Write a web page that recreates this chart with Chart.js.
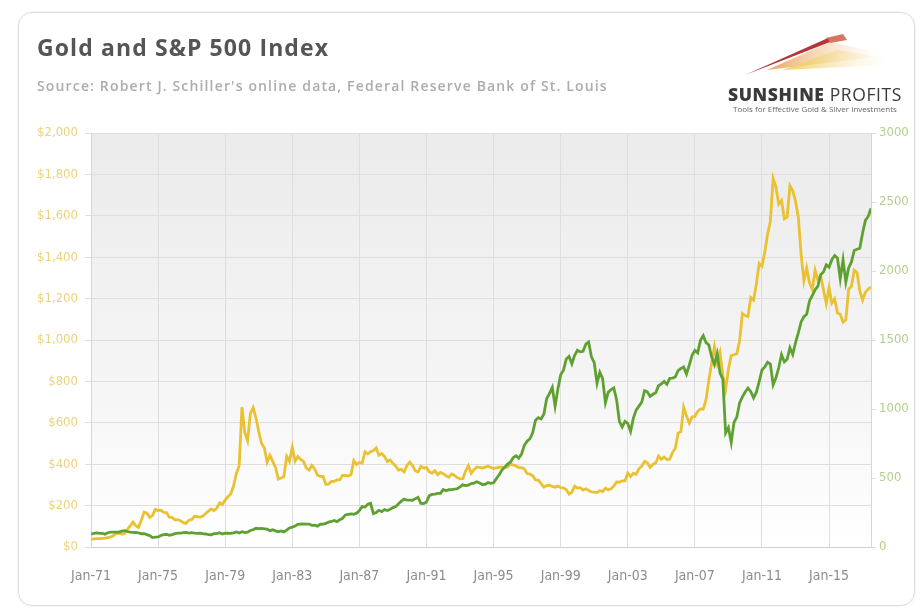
<!DOCTYPE html>
<html>
<head>
<meta charset="utf-8">
<title>Gold and S&amp;P 500 Index</title>
<script src="https://cdn.jsdelivr.net/npm/chart.js@4.4.1/dist/chart.umd.min.js"></script>
<style>
  html, body { margin: 0; padding: 0; background: #fff; }
  #wrap { position: relative; width: 923px; height: 609px; overflow: hidden; }
  #card {
    position: absolute; left: 18px; top: 12px; width: 895px; height: 592px;
    border: 1px solid #dcdcdc; border-radius: 14px; box-shadow: 0 0 3px rgba(0,0,0,0.08);
  }
  #chart { position: absolute; left: 0; top: 0; }
  .title {
    position: absolute; left: 37px; top: 31px; margin: 0; white-space: nowrap;
    font: bold 23px "Open Sans", Lato, sans-serif; color: #555; letter-spacing: 1.1px;
  }
  .source {
    position: absolute; left: 37px; top: 76px; white-space: nowrap;
    font: 600 14px "Open Sans", Lato, sans-serif; color: #acacac; letter-spacing: 1.15px;
  }
  .logo { position: absolute; left: 725px; top: 30px; width: 190px; height: 80px; }
  .logo svg { position: absolute; left: 0; top: 0; }
  .brand {
    position: absolute; left: 3px; top: 52px; white-space: nowrap;
    font: 17.5px "Open Sans", Lato, sans-serif; color: #3a3a3a; letter-spacing: 0.6px;
  }
  .brand b { font-weight: 800; }
  .tagline {
    position: absolute; left: 8px; top: 73px; white-space: nowrap;
    font: 8px "Open Sans", sans-serif; color: #666;
  }
</style>
</head>
<body>
<div id="wrap">
  <div id="card"></div>
  <canvas id="chart" width="923" height="609"></canvas>
  <h1 class="title">Gold and S&amp;P 500 Index</h1>
  <div class="source">Source: Robert J. Schiller's online data, Federal Reserve Bank of St. Louis</div>
  <div class="logo">
    <svg width="190" height="56" viewBox="0 0 190 56">
      <defs>
        <linearGradient id="fadeY" x1="0" x2="1" y1="0" y2="0">
          <stop offset="0" stop-color="#f2c94c" stop-opacity="0.9"/>
          <stop offset="1" stop-color="#f6e7b0" stop-opacity="0"/>
        </linearGradient>
        <linearGradient id="fadeO" x1="0" x2="1" y1="0" y2="0">
          <stop offset="0" stop-color="#e59a4a" stop-opacity="0.9"/>
          <stop offset="1" stop-color="#f3d3a0" stop-opacity="0"/>
        </linearGradient>
      </defs>
      <polygon points="20,45 103,8 105,12" fill="#b5343a"/>
      <polygon points="42,40 105,12 152,22 150,27" fill="url(#fadeO)"/>
      <polygon points="58,40 112,20 162,28 160,35" fill="url(#fadeY)"/>
      <polygon points="101,8 118,4 122,10 105,13" fill="#c9543a" opacity="0.8"/>
    </svg>
    <div class="brand"><b>SUNSHINE</b> PROFITS</div>
    <div class="tagline">Tools for Effective Gold &amp; Silver Investments</div>
  </div>
</div>
<script>
// bi-monthly samples (Jan, Mar, May, Jul, Sep, Nov) from Jan 1971 to Jul 2017
const startYear = 1971;
const samplesPerYear = 6;

// gold price, USD per ounce
const goldPrice = [
  37.9, 38.9, 40.5, 40.9, 42.0, 42.9,
  45.8, 48.3, 54.6, 65.7, 65.5, 62.8,
  65.1, 84.3, 102.0, 120.2, 103.0, 94.8,
  129.2, 168.4, 163.3, 143.0, 151.8, 181.8,
  176.3, 178.2, 167.0, 166.4, 144.0, 142.8,
  131.5, 132.4, 126.4, 117.9, 114.0, 130.3,
  132.3, 148.3, 146.6, 143.3, 149.5, 162.1,
  173.2, 183.7, 176.3, 188.3, 213.0, 206.0,
  227.3, 242.0, 257.0, 294.7, 355.1, 392.5,
  675.3, 553.6, 513.8, 644.3, 673.6, 623.5,
  557.4, 499.8, 479.7, 409.4, 443.0, 413.4,
  384.1, 328.0, 333.5, 340.4, 438.0, 414.1,
  481.5, 414.4, 437.3, 423.0, 413.4, 381.7,
  370.9, 394.3, 377.4, 347.7, 341.2, 341.2,
  302.9, 304.0, 316.5, 317.4, 323.8, 325.3,
  345.4, 345.7, 342.4, 348.6, 417.5, 398.4,
  408.4, 405.6, 460.1, 450.1, 460.4, 465.8,
  478.4, 443.6, 451.1, 436.5, 412.9, 420.2,
  404.0, 390.5, 371.0, 375.0, 362.6, 393.8,
  409.8, 393.1, 368.8, 362.5, 389.0, 381.8,
  383.6, 363.3, 356.8, 368.2, 349.2, 360.0,
  354.0, 344.3, 337.2, 352.9, 345.4, 335.0,
  329.0, 330.0, 367.1, 392.4, 356.0, 373.9,
  386.9, 384.1, 381.0, 385.6, 391.6, 384.4,
  379.3, 382.7, 385.3, 386.2, 383.6, 386.1,
  400.0, 396.3, 391.9, 383.1, 383.1, 377.9,
  354.6, 352.0, 343.8, 324.1, 322.8, 306.0,
  289.1, 296.8, 299.1, 292.6, 289.0, 294.1,
  287.1, 285.9, 276.9, 256.1, 264.7, 294.0,
  284.6, 286.4, 275.3, 281.6, 273.7, 266.0,
  265.5, 263.0, 272.4, 268.0, 283.4, 276.2,
  281.7, 294.0, 314.5, 313.3, 319.2, 319.1,
  356.9, 340.6, 355.7, 351.0, 378.9, 389.9,
  414.0, 406.7, 384.0, 398.5, 405.3, 439.4,
  424.0, 434.2, 422.6, 424.5, 456.0, 476.7,
  549.9, 557.1, 675.4, 633.7, 598.2, 627.8,
  631.2, 654.9, 667.3, 665.3, 712.7, 806.3,
  889.6, 968.4, 889.5, 939.8, 829.9, 760.9,
  858.7, 924.3, 928.6, 934.2, 996.6, 1128.0,
  1117.9, 1113.3, 1205.4, 1193.0, 1271.5, 1370.0,
  1356.4, 1424.0, 1510.4, 1572.8, 1780.7, 1738.9,
  1656.1, 1673.8, 1585.5, 1593.9, 1744.5, 1721.1,
  1669.9, 1593.1, 1414.0, 1285.5, 1348.6, 1275.8,
  1244.3, 1336.1, 1288.7, 1311.0, 1241.3, 1176.3,
  1251.8, 1178.6, 1198.9, 1130.0, 1124.6, 1086.4,
  1097.9, 1245.1, 1259.4, 1337.3, 1326.6, 1236.9,
  1192.1, 1231.1, 1246.0, 1256.0
];

// S&P 500 index level
const spIndex = [
  93.5, 99.6, 102.0, 99.0, 99.4, 92.8,
  103.3, 107.9, 107.7, 107.2, 108.4, 114.6,
  118.4, 112.4, 107.2, 105.8, 105.2, 102.0,
  96.1, 97.4, 89.7, 82.8, 68.1, 71.7,
  72.6, 83.8, 90.1, 92.5, 84.7, 90.1,
  96.9, 101.1, 101.2, 104.2, 105.4, 101.2,
  103.8, 100.6, 98.8, 100.2, 96.2, 94.3,
  90.3, 88.8, 97.2, 97.0, 103.9, 94.7,
  99.7, 100.1, 99.1, 102.7, 108.6, 101.8,
  110.9, 104.7, 107.7, 119.8, 124.7, 135.7,
  133.0, 134.4, 131.7, 129.1, 118.3, 124.7,
  117.3, 110.8, 116.4, 109.4, 122.4, 137.7,
  144.3, 151.9, 164.4, 166.0, 167.2, 166.4,
  166.4, 157.4, 157.5, 151.1, 164.9, 166.3,
  171.6, 180.7, 184.9, 192.5, 184.1, 197.5,
  208.2, 232.3, 236.5, 240.2, 237.4, 245.1,
  264.5, 292.5, 289.1, 310.1, 316.7, 242.0,
  250.5, 265.7, 256.1, 270.7, 264.5, 273.7,
  285.4, 292.7, 313.9, 331.9, 347.3, 340.2,
  340.0, 338.5, 350.3, 360.0, 315.4, 315.3,
  325.5, 372.3, 381.3, 383.2, 387.9, 388.5,
  416.1, 407.4, 414.8, 415.1, 418.5, 422.8,
  435.2, 450.2, 445.3, 449.0, 459.3, 462.9,
  473.0, 463.8, 453.0, 454.2, 467.0, 461.0,
  465.3, 495.5, 523.8, 557.4, 578.8, 600.1,
  614.4, 647.1, 661.2, 644.1, 673.6, 737.0,
  766.2, 784.4, 829.9, 918.6, 937.0, 927.7,
  963.4, 1076.8, 1112.2, 1156.6, 1020.6, 1144.4,
  1248.8, 1281.7, 1362.9, 1381.0, 1327.5, 1388.9,
  1425.6, 1413.9, 1418.5, 1469.5, 1485.5, 1378.0,
  1335.6, 1185.9, 1266.4, 1220.3, 1044.6, 1120.6,
  1140.2, 1153.0, 1067.1, 909.9, 869.4, 909.9,
  895.8, 837.6, 934.0, 992.5, 1021.0, 1049.9,
  1132.5, 1124.0, 1091.0, 1106.7, 1117.7, 1168.9,
  1181.4, 1199.6, 1178.3, 1222.2, 1224.3, 1232.4,
  1278.7, 1293.2, 1305.0, 1253.1, 1317.8, 1389.0,
  1424.2, 1406.6, 1497.2, 1531.0, 1480.7, 1463.4,
  1378.8, 1322.7, 1400.4, 1260.2, 1217.0, 825.9,
  865.6, 757.1, 903.3, 940.4, 1044.6, 1088.1,
  1123.6, 1152.0, 1125.1, 1079.8, 1122.1, 1198.9,
  1282.6, 1304.5, 1338.3, 1325.2, 1175.4, 1226.4,
  1300.6, 1394.5, 1341.3, 1359.8, 1443.4, 1394.5,
  1480.4, 1551.7, 1631.0, 1668.7, 1687.2, 1783.5,
  1822.4, 1863.5, 1889.8, 1973.1, 1993.2, 2044.6,
  2028.2, 2082.2, 2111.9, 2094.1, 1944.4, 2080.6,
  1918.6, 2022.0, 2065.6, 2148.9, 2157.7, 2165.0,
  2275.1, 2366.8, 2395.3, 2454.1
];

// axis ticks
const goldTicks = [0, 200, 400, 600, 800, 1000, 1200, 1400, 1600, 1800, 2000];
const spTicks = [0, 500, 1000, 1500, 2000, 2500, 3000];
const yearTicks = [1971, 1975, 1979, 1983, 1987, 1991, 1995, 1999, 2003, 2007, 2011, 2015];

const toPoints = (arr) => arr.map((v, i) => ({ x: startYear + i / samplesPerYear, y: v }));

// light gray wash behind the plot
const plotBackground = {
  id: "plotBackground",
  beforeDraw(chart) {
    const { ctx, chartArea: a } = chart;
    const g = ctx.createLinearGradient(0, a.top, 0, a.bottom);
    g.addColorStop(0, "#ebebeb");
    g.addColorStop(0.55, "#f4f4f4");
    g.addColorStop(1, "#ffffff");
    ctx.save();
    ctx.fillStyle = g;
    ctx.fillRect(a.left, a.top, a.right - a.left, a.bottom - a.top);
    ctx.restore();
  },
};

// "condensed" goes in the weight slot so the canvas font shorthand picks a narrow face
const narrow = "'DejaVu Sans Condensed', 'Liberation Sans Narrow', 'DejaVu Sans', sans-serif";

new Chart(document.getElementById("chart"), {
  type: "line",
  data: {
    datasets: [
      {
        label: "S&P 500",
        data: toPoints(spIndex),
        yAxisID: "y1",
        borderColor: "#5fa131",
        borderWidth: 2.8,
        pointRadius: 0,
        tension: 0,
      },
      {
        label: "Gold",
        data: toPoints(goldPrice),
        yAxisID: "y",
        borderColor: "#eac130",
        borderWidth: 2.8,
        pointRadius: 0,
        tension: 0,
      },
    ],
  },
  options: {
    responsive: false,
    animation: false,
    devicePixelRatio: 1,
    layout: { padding: { top: 133, left: 0, right: 0, bottom: 0 } },
    plugins: { legend: { display: false }, tooltip: { enabled: false } },
    scales: {
      x: {
        type: "linear",
        min: 1971,
        max: 2017.5,
        afterFit: (s) => { s.height = 62; },
        afterBuildTicks: (s) => { s.ticks = yearTicks.map((v) => ({ value: v })); },
        grid: { color: "#dedede", drawTicks: false },
        border: { color: "#d0d0d0" },
        ticks: {
          padding: 21,
          color: "#8c8c8c",
          font: { family: narrow, size: 14, weight: "condensed" },
          maxRotation: 0,
          callback: (v) => "Jan-" + String(v).slice(2),
        },
      },
      y: {
        position: "left",
        min: 0,
        max: 2000,
        afterFit: (s) => { s.width = 91; },
        afterBuildTicks: (s) => { s.ticks = goldTicks.map((v) => ({ value: v })); },
        grid: { color: "#dedede", tickLength: 6 },
        border: { color: "#d6d6d6" },
        ticks: {
          padding: 7,
          color: "#ecd27c",
          font: { family: narrow, size: 13, weight: "condensed" },
          callback: (v) => "$" + v.toLocaleString("en-US"),
        },
      },
      y1: {
        position: "right",
        min: 0,
        max: 3000,
        afterFit: (s) => { s.width = 52; },
        afterBuildTicks: (s) => { s.ticks = spTicks.map((v) => ({ value: v })); },
        grid: { drawOnChartArea: false, color: "#dedede", tickLength: 5 },
        border: { color: "#d6d6d6" },
        ticks: {
          padding: 3,
          color: "#b4cf8c",
          font: { family: narrow, size: 13, weight: "condensed" },
          callback: (v) => String(v),
        },
      },
    },
  },
  plugins: [plotBackground],
});
</script>
</body>
</html>
